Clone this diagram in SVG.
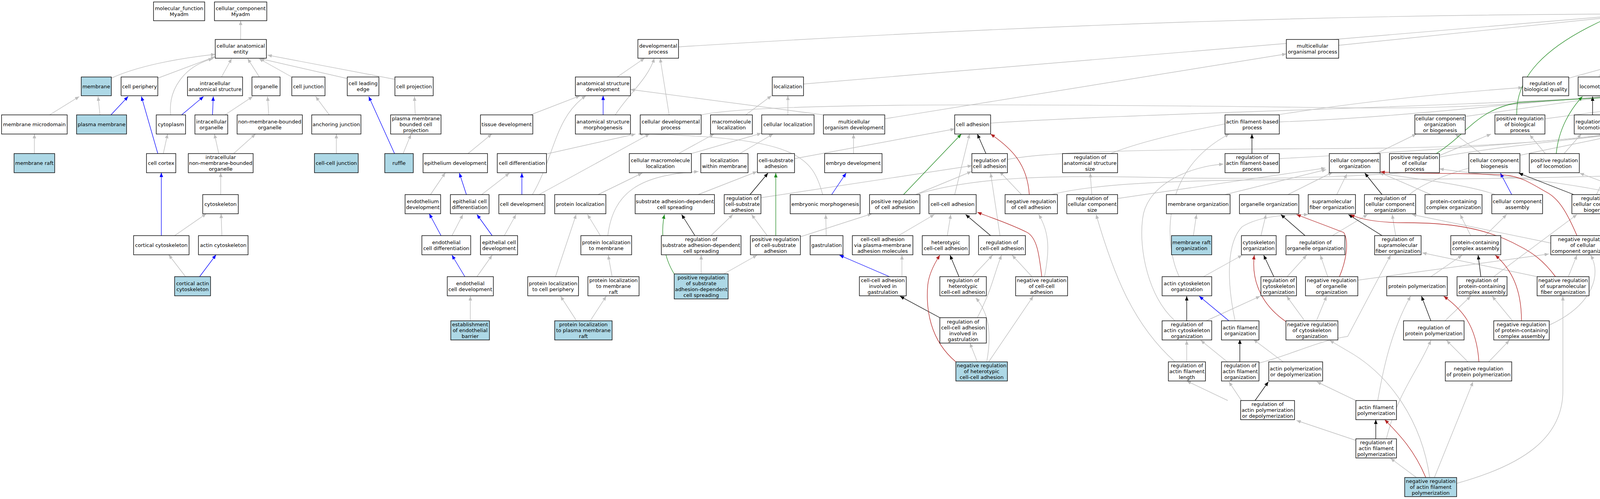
<svg xmlns="http://www.w3.org/2000/svg" width="6767" height="1277" viewBox="0 0 6767 1277">
<style>
.b{fill:#fff;stroke:#000;stroke-width:1.4}
.q{fill:#add8e6;stroke:#000;stroke-width:1.4}
text{font-family:"DejaVu Sans","Liberation Sans",sans-serif;font-size:13px;text-anchor:middle;fill:#000}
#edges path{fill:none}
.g{stroke:#bebebe;stroke-width:1.4;marker-end:url(#ag)}
.u{stroke:#0000ff;stroke-width:1.3;marker-end:url(#au)}
.k{stroke:#000;stroke-width:1.3;marker-end:url(#ak)}
.v{stroke:#228b22;stroke-width:1.3;marker-end:url(#av)}
.r{stroke:#b22222;stroke-width:1.3;marker-end:url(#ar)}
</style>
<defs>
<marker id="ag" markerUnits="userSpaceOnUse" markerWidth="12" markerHeight="10" refX="11" refY="4.5" orient="auto"><path d="M0,0 L11,4.5 L0,9 z" fill="#bebebe"/></marker>
<marker id="au" markerUnits="userSpaceOnUse" markerWidth="12" markerHeight="10" refX="11" refY="4.5" orient="auto"><path d="M0,0 L11,4.5 L0,9 z" fill="#0000ff"/></marker>
<marker id="ak" markerUnits="userSpaceOnUse" markerWidth="12" markerHeight="10" refX="11" refY="4.5" orient="auto"><path d="M0,0 L11,4.5 L0,9 z" fill="#000"/></marker>
<marker id="av" markerUnits="userSpaceOnUse" markerWidth="12" markerHeight="10" refX="11" refY="4.5" orient="auto"><path d="M0,0 L11,4.5 L0,9 z" fill="#228b22"/></marker>
<marker id="ar" markerUnits="userSpaceOnUse" markerWidth="12" markerHeight="10" refX="11" refY="4.5" orient="auto"><path d="M0,0 L11,4.5 L0,9 z" fill="#b22222"/></marker>
</defs>
<rect width="6767" height="1277" fill="#fff"/>
<g id="edges">
<path class="g" d="M616 101 L616 53"/>
<path class="g" d="M285 200 C350 170 450 150 551 139"/>
<path class="g" d="M404 200 L551 145"/>
<path class="g" d="M437 294 C430 230 470 170 545 150"/>
<path class="g" d="M567 197 L593 150"/>
<path class="g" d="M664 197 L634 150"/>
<path class="g" d="M747 197 L663 150"/>
<path class="g" d="M889 201 L666 150"/>
<path class="g" d="M1011 203 L685 141"/>
<path class="g" d="M127 294 L203 247"/>
<path class="g" d="M256 294 L251 247"/>
<path class="g" d="M576 294 L647 247"/>
<path class="g" d="M688 294 L685 247"/>
<path class="g" d="M843 294 L808 247"/>
<path class="g" d="M1063 294 L1061 247"/>
<path class="g" d="M88 393 L88 343"/>
<path class="g" d="M418 393 L429 343"/>
<path class="g" d="M560 393 L549 343"/>
<path class="g" d="M598 393 L654 343"/>
<path class="g" d="M861 393 L861 343"/>
<path class="g" d="M1032 393 L1052 344"/>
<path class="g" d="M565 498 L565 442"/>
<path class="g" d="M447 603 L528 547"/>
<path class="g" d="M568 603 L566 547"/>
<path class="g" d="M475 708 L432 652"/>
<path class="g" d="M1198 393 L1259 343"/>
<path class="g" d="M1102 498 L1140 442"/>
<path class="g" d="M1737 120 Q3000 40 4117 36"/>
<path class="g" d="M1580 197 L1650 149"/>
<path class="g" d="M1575 294 C1610 240 1660 200 1675 149"/>
<path class="g" d="M1713 294 L1690 149"/>
<path class="g" d="M1358 294 L1485 245"/>
<path class="g" d="M1363 498 C1420 400 1420 300 1500 245"/>
<path class="g" d="M2108 294 L1614 229"/>
<path class="g" d="M2057 215 Q3500 90 4117 42"/>
<path class="g" d="M1909 294 L1975 245"/>
<path class="g" d="M2017 294 L2017 245"/>
<path class="g" d="M1795 294 C1950 262 2600 265 3450 276 C3800 280 4000 255 4144 243"/>
<path class="g" d="M2265 304 L3293 138"/>
<path class="g" d="M1399 394 L1627 343"/>
<path class="g" d="M1380 498 L1663 343"/>
<path class="g" d="M1737 393 L1828 343"/>
<path class="g" d="M1770 393 L1949 341"/>
<path class="g" d="M1894 393 L1979 343"/>
<path class="g" d="M2034 406 L2444 330"/>
<path class="g" d="M2185 393 L2185 343"/>
<path class="g" d="M2106 498 C2080 400 2040 350 1634 343"/>
<path class="g" d="M1233 498 L1304 443"/>
<path class="g" d="M1531 498 L1644 443"/>
<path class="g" d="M1787 498 L1938 439"/>
<path class="g" d="M1948 506 L2488 424"/>
<path class="g" d="M1964 603 L1924 549"/>
<path class="g" d="M2049 606 L2232 547"/>
<path class="g" d="M1820 603 L1876 549"/>
<path class="g" d="M2115 603 L2114 549"/>
<path class="g" d="M1157 603 L1185 549"/>
<path class="g" d="M1291 603 L1321 549"/>
<path class="g" d="M1537 603 L1504 549"/>
<path class="g" d="M1556 603 C1570 490 1640 448 1788 439"/>
<path class="g" d="M1422 708 L1475 549"/>
<path class="g" d="M1795 701 L1795 653"/>
<path class="g" d="M1853 701 L1938 653"/>
<path class="g" d="M2309 708 L2309 653"/>
<path class="g" d="M1204 821 L1204 758"/>
<path class="g" d="M1221 708 L1260 653"/>
<path class="g" d="M1476 821 L1435 758"/>
<path class="g" d="M1511 821 L1552 758"/>
<path class="g" d="M1567 708 L1557 653"/>
<path class="g" d="M3427 116 L4117 45"/>
<path class="g" d="M2536 315 C2900 290 3700 275 4144 246"/>
<path class="g" d="M3275 312 C3600 300 3900 260 4144 245"/>
<path class="g" d="M2579 408 C2700 385 3000 382 3450 380 C3800 378 4000 360 4144 340"/>
<path class="g" d="M2843 393 C3000 330 3400 260 3898 224"/>
<path class="g" d="M3275 406 C3600 388 3900 370 4144 342"/>
<path class="g" d="M2444 498 L2482 343"/>
<path class="g" d="M2615 498 L2559 439"/>
<path class="g" d="M2692 498 C2800 470 3000 459 3450 459 C3900 459 4200 450 4403 438"/>
<path class="g" d="M2795 498 L2791 443"/>
<path class="g" d="M2861 508 L3393 430"/>
<path class="g" d="M3136 498 L3395 434"/>
<path class="g" d="M3297 498 L3411 441"/>
<path class="g" d="M3422 498 L3448 445"/>
<path class="g" d="M3055 603 L3063 549"/>
<path class="g" d="M3228 603 L3241 549"/>
<path class="g" d="M3411 603 L3501 549"/>
<path class="g" d="M2344 498 L2487 439"/>
<path class="g" d="M2344 498 C2500 450 2700 448 3000 455 C3300 460 3550 450 3685 432"/>
<path class="g" d="M2300 603 L2392 549"/>
<path class="g" d="M2425 603 L2434 549"/>
<path class="g" d="M2560 603 L2536 443"/>
<path class="g" d="M2489 708 L2541 653"/>
<path class="g" d="M2642 708 L2591 653"/>
<path class="g" d="M2674 708 C2685 650 2690 600 2659 549"/>
<path class="g" d="M2502 813 C2540 740 2545 700 2564 653"/>
<path class="g" d="M2526 926 C2540 850 2530 800 2498 762"/>
<path class="g" d="M2502 926 L2483 878"/>
<path class="g" d="M2531 926 L2645 758"/>
<path class="g" d="M3081 708 L3180 653"/>
<path class="g" d="M3019 708 C2985 640 2960 440 3147 343"/>
<path class="g" d="M3008 821 C2940 760 2915 640 2925 560 C2935 470 3050 425 3132 420"/>
<path class="g" d="M3008 926 C2900 830 2850 700 2806 549"/>
<path class="g" d="M3162 821 C3140 720 3140 620 3180 580 C3230 550 3300 550 3349 549"/>
<path class="g" d="M3295 708 L3345 653"/>
<path class="g" d="M3088 821 L3226 758"/>
<path class="g" d="M3340 821 L3294 758"/>
<path class="g" d="M3370 821 L3396 758"/>
<path class="g" d="M3399 708 L3380 653"/>
<path class="g" d="M3142 926 L3074 871"/>
<path class="g" d="M3038 926 L3038 871"/>
<path class="g" d="M3285 926 L3209 869"/>
<path class="g" d="M3223 929 C3300 910 3380 870 3450 861 L3560 653"/>
<path class="g" d="M3143 1025 L3038 975"/>
<path class="g" d="M3178 1025 L3146 977"/>
<path class="g" d="M3471 1025 L3371 977"/>
<path class="g" d="M3471 1127 L3319 1076"/>
<path class="g" d="M4260 101 L4213 55"/>
<path class="g" d="M4016 200 L4216 145"/>
<path class="g" d="M4093 197 L4165 55"/>
<path class="g" d="M4194 197 L4183 55"/>
<path class="g" d="M4531 204 L4363 149"/>
<path class="g" d="M3955 304 L4531 228"/>
<path class="g" d="M4119 298 L4531 230"/>
<path class="g" d="M4251 298 L4531 232"/>
<path class="g" d="M4287 294 L4231 247"/>
<path class="g" d="M4476 302 L4253 230"/>
<path class="g" d="M3751 298 L4144 243"/>
<path class="g" d="M3523 393 L3626 343"/>
<path class="g" d="M3685 398 L3817 343"/>
<path class="g" d="M3685 402 C3800 380 4000 360 4144 343"/>
<path class="g" d="M3791 393 L3725 343"/>
<path class="g" d="M3956 393 L3916 345"/>
<path class="g" d="M4004 393 L4048 343"/>
<path class="g" d="M4139 393 L4095 343"/>
<path class="g" d="M4172 393 L4183 343"/>
<path class="g" d="M4326 393 L4323 343"/>
<path class="g" d="M4403 404 L4257 341"/>
<path class="g" d="M4535 402 C4700 380 4900 360 5090 343"/>
<path class="g" d="M4611 400 C4500 380 4350 350 4251 340"/>
<path class="g" d="M4224 498 L4183 443"/>
<path class="g" d="M4191 498 L4044 443"/>
<path class="g" d="M4178 505 C4000 460 3800 450 3685 432"/>
<path class="g" d="M4330 498 L4213 439"/>
<path class="g" d="M3608 498 C3700 420 4000 380 4147 343"/>
<path class="g" d="M3663 498 L3531 441"/>
<path class="g" d="M3828 498 C3750 470 3600 455 3531 443"/>
<path class="g" d="M4087 498 C4120 430 4130 380 4150 343"/>
<path class="g" d="M4134 622 C4300 590 4450 560 4469 443"/>
<path class="g" d="M3970 622 L3615 549"/>
<path class="g" d="M3573 603 L3564 549"/>
<path class="g" d="M3765 603 L3738 549"/>
<path class="g" d="M3802 603 L3857 549"/>
<path class="g" d="M4378 603 L4378 549"/>
<path class="g" d="M4348 603 L4279 549"/>
<path class="g" d="M3476 717 L3965 650"/>
<path class="g" d="M4015 708 L4037 653"/>
<path class="g" d="M3966 832 C4080 780 4100 700 4072 653"/>
<path class="g" d="M3935 708 L3641 647"/>
<path class="g" d="M3663 708 L3743 653"/>
<path class="g" d="M3824 708 L4037 549"/>
<path class="g" d="M3872 821 L3820 758"/>
<path class="g" d="M3699 821 L3765 758"/>
<path class="g" d="M3758 926 L3703 871"/>
<path class="g" d="M3811 926 L3864 871"/>
<path class="g" d="M3527 1025 C3540 950 3560 850 3611 758"/>
<path class="g" d="M3549 1123 C3580 1000 3630 950 3663 871"/>
<path class="g" d="M3626 1222 L3560 1173"/>
<path class="g" d="M3672 1222 L3771 977"/>
<path class="g" d="M3660 1222 C3640 1080 3560 960 3450 898 L3404 871"/>
<path class="g" d="M3729 1237 C3900 1190 4001 1120 4001 1000 L4001 758"/>
<path class="g" d="M4786 208 C4600 150 4400 80 4249 50"/>
<path class="g" d="M4840 294 C4700 220 4400 90 4251 55"/>
<path class="g" d="M4974 298 L4659 231"/>
<path class="g" d="M5088 305 L4659 233"/>
<path class="g" d="M4765 294 L4805 247"/>
<path class="g" d="M4685 300 C4500 270 4350 240 4253 236"/>
<path class="g" d="M5399 302 C5000 260 4500 230 4253 225"/>
<path class="g" d="M5523 304 L5818 237"/>
<path class="g" d="M5829 296 C5500 270 5000 240 4660 233"/>
<path class="g" d="M4964 393 C4950 300 4800 250 4659 241"/>
<path class="g" d="M5232 393 L5183 343"/>
<path class="g" d="M5192 393 L5069 341"/>
<path class="g" d="M5523 396 L5828 341"/>
<path class="g" d="M5399 404 C5200 380 4600 360 4251 343"/>
<path class="g" d="M5583 393 L5506 343"/>
<path class="g" d="M4758 498 L4706 443"/>
<path class="g" d="M4708 505 C4650 470 4600 450 4535 436"/>
<path class="g" d="M4886 498 L4747 443"/>
<path class="g" d="M4952 498 L4963 443"/>
<path class="g" d="M4990 498 C5010 430 5020 380 5029 343"/>
<path class="g" d="M5113 498 L5018 443"/>
<path class="g" d="M5155 498 L5155 343"/>
<path class="g" d="M4666 498 L4780 443"/>
<path class="g" d="M5386 498 L5436 443"/>
<path class="g" d="M5296 510 C5000 460 4700 450 4535 440"/>
<path class="g" d="M5429 505 C5600 470 5800 455 5925 440"/>
<path class="g" d="M5550 498 L5491 443"/>
<path class="g" d="M5722 498 L5656 443"/>
<path class="g" d="M5407 603 L5381 549"/>
<path class="g" d="M5458 603 L5540 549"/>
<path class="g" d="M5619 603 L5594 549"/>
<path class="g" d="M5498 708 L5444 653"/>
<path class="g" d="M5537 708 L5601 653"/>
<path class="g" d="M5686 708 L5653 653"/>
<path class="g" d="M5619 821 L5542 758"/>
<path class="g" d="M5664 821 L5693 758"/>
<path class="g" d="M5767 926 L5697 871"/>
<path class="g" d="M4720 708 L4739 653"/>
<path class="g" d="M4830 708 L4782 653"/>
<path class="g" d="M4890 708 L4969 653"/>
<path class="g" d="M4709 821 L4709 758"/>
<path class="g" d="M4739 821 L4816 758"/>
<path class="g" d="M4616 603 L4616 549"/>
<path class="g" d="M4802 603 L4897 549"/>
<path class="g" d="M4996 603 L4963 549"/>
<path class="g" d="M5044 603 L5117 549"/>
<path class="g" d="M5083 620 C5200 590 5260 520 5260 443"/>
<path class="g" d="M4956 603 L4838 549"/>
<path class="g" d="M5829 208 C5400 150 4700 60 4249 45"/>
<path class="g" d="M5776 294 L5854 247"/>
<path class="g" d="M6138 298 L5958 245"/>
<path class="g" d="M6351 305 L5958 235"/>
<path class="g" d="M5851 393 L5876 345"/>
<path class="g" d="M5967 393 L5922 345"/>
<path class="g" d="M6084 393 L5958 345"/>
<path class="g" d="M6360 393 L6259 345"/>
<path class="g" d="M6413 393 L6413 345"/>
<path class="g" d="M6533 393 L6457 345"/>
<path class="g" d="M6356 498 C6300 420 6150 350 5958 326"/>
<path class="g" d="M5953 509 C5850 490 5755 460 5745 400 L5740 343"/>
<path class="g" d="M6074 506 L6340 437"/>
<path class="g" d="M6074 503 C6200 470 6400 460 6508 439"/>
<path class="g" d="M6533 498 L6557 443"/>
<path class="g" d="M6674 498 L6607 443"/>
<path class="g" d="M6198 490 L6170 443"/>
<path class="g" d="M6152 490 L6048 443"/>
<path class="g" d="M5932 603 C5940 520 6000 460 6074 441"/>
<path class="g" d="M5925 603 L5847 443"/>
<path class="g" d="M6000 607 L6327 549"/>
<path class="g" d="M6074 603 L6032 549"/>
<path class="g" d="M6162 617 L6473 549"/>
<path class="g" d="M6314 616 C6200 580 6100 500 6029 443"/>
<path class="g" d="M6379 603 L6379 549"/>
<path class="g" d="M6526 603 L6431 549"/>
<path class="g" d="M5776 603 L5763 549"/>
<path class="g" d="M6247 708 L6227 555"/>
<path class="g" d="M6181 708 L6003 649"/>
<path class="g" d="M6282 708 L6343 653"/>
<path class="g" d="M6569 708 L6569 653"/>
<path class="g" d="M6525 708 L6431 653"/>
<path class="g" d="M5846 708 L5807 653"/>
<path class="g" d="M5915 708 L6035 653"/>
<path class="g" d="M6014 708 L5964 653"/>
<path class="g" d="M6100 821 L6058 758"/>
<path class="g" d="M6147 821 L6220 758"/>
<path class="g" d="M5920 821 L6003 758"/>
<path class="g" d="M5847 821 L5752 758"/>
<path class="g" d="M5841 926 L5872 871"/>
<path class="g" d="M5893 926 L6052 871"/>
<path class="g" d="M5925 394 C5700 370 5400 345 5221 330"/>
<path class="u" d="M284 294 L328 247"/>
<path class="u" d="M404 393 L362 247"/>
<path class="u" d="M465 294 L521 247"/>
<path class="u" d="M544 294 L546 247"/>
<path class="u" d="M1010 393 L944 247"/>
<path class="u" d="M413 603 L413 442"/>
<path class="u" d="M511 708 L553 652"/>
<path class="u" d="M1129 603 L1099 547"/>
<path class="u" d="M1544 294 L1544 245"/>
<path class="u" d="M2129 498 L2166 443"/>
<path class="u" d="M1194 498 L1176 443"/>
<path class="u" d="M1336 498 L1336 443"/>
<path class="u" d="M1260 603 L1221 549"/>
<path class="u" d="M2277 708 L2149 653"/>
<path class="u" d="M1190 708 L1157 653"/>
<path class="u" d="M3146 821 L3070 758"/>
<path class="u" d="M3870 498 L3841 443"/>
<path class="u" d="M4770 395 L4611 343"/>
<path class="u" d="M4813 393 L4769 343"/>
<path class="u" d="M4842 393 L4855 343"/>
<path class="k" d="M1920 498 L1966 443"/>
<path class="k" d="M1779 603 L1745 549"/>
<path class="k" d="M2524 393 L2502 343"/>
<path class="k" d="M3205 393 L3205 343"/>
<path class="k" d="M3341 603 L3279 549"/>
<path class="k" d="M2536 603 L2472 549"/>
<path class="k" d="M2455 708 L2432 653"/>
<path class="k" d="M2406 813 L2304 758"/>
<path class="k" d="M3038 821 L3038 758"/>
<path class="k" d="M3261 708 L3235 653"/>
<path class="k" d="M3174 926 L3174 869"/>
<path class="k" d="M3213 1025 L3247 977"/>
<path class="k" d="M4550 197 C4450 120 4350 80 4246 52"/>
<path class="k" d="M4077 294 L4077 247"/>
<path class="k" d="M4197 294 L4197 247"/>
<path class="k" d="M4200 393 L4275 345"/>
<path class="k" d="M3538 498 L3494 443"/>
<path class="k" d="M4029 498 L3888 443"/>
<path class="k" d="M4367 498 L4345 443"/>
<path class="k" d="M3538 603 L3452 549"/>
<path class="k" d="M3791 708 L3784 653"/>
<path class="k" d="M3663 821 L3639 758"/>
<path class="k" d="M3522 1123 L3522 1074"/>
<path class="k" d="M4974 294 L4871 243"/>
<path class="k" d="M4645 393 L4579 345"/>
<path class="k" d="M4945 393 L4892 343"/>
<path class="k" d="M5461 393 L5461 343"/>
<path class="k" d="M4923 498 L4864 443"/>
<path class="k" d="M5590 498 L5612 443"/>
<path class="k" d="M5663 603 L5722 549"/>
<path class="k" d="M5722 708 L5760 653"/>
<path class="k" d="M4687 708 L4640 653"/>
<path class="k" d="M4723 603 L4651 549"/>
<path class="k" d="M5891 294 L5891 247"/>
<path class="k" d="M5814 393 L5766 345"/>
<path class="k" d="M6163 393 L6188 345"/>
<path class="k" d="M6425 498 L6528 443"/>
<path class="k" d="M5958 603 L5993 549"/>
<path class="k" d="M6600 603 L6674 549"/>
<path class="k" d="M6050 708 L6078 653"/>
<path class="k" d="M5883 821 L5870 758"/>
<path class="v" d="M1986 603 L1986 443"/>
<path class="v" d="M1726 701 C1700 660 1690 600 1701 549"/>
<path class="v" d="M2313 498 L2461 343"/>
<path class="v" d="M3883 294 C3880 200 3950 120 4114 47"/>
<path class="v" d="M3984 393 C3990 330 4020 280 4051 247"/>
<path class="v" d="M3677 393 C3760 340 3780 280 3890 262 L4139 248"/>
<path class="v" d="M4246 498 C4260 420 4280 380 4297 343"/>
<path class="v" d="M4403 603 C4420 550 4410 480 4385 439"/>
<path class="r" d="M2635 498 C2630 420 2590 380 2536 343"/>
<path class="r" d="M2667 708 C2660 650 2655 610 2630 595 C2580 570 2530 555 2502 543"/>
<path class="r" d="M2447 926 C2380 870 2370 790 2375 730 C2378 700 2395 670 2406 653"/>
<path class="r" d="M3292 823 C3215 770 3205 700 3211 653"/>
<path class="r" d="M3429 708 C3445 670 3455 620 3440 595 L3319 549"/>
<path class="r" d="M3982 708 C3950 665 3920 645 3890 630 C3800 580 3700 570 3600 570 C3520 570 3480 560 3457 549"/>
<path class="r" d="M4037 603 C4010 540 3990 510 3963 494 C3920 470 3900 455 3861 449 C3800 442 3600 445 3534 440"/>
<path class="r" d="M3895 821 C3895 740 3870 690 3828 653"/>
<path class="r" d="M3786 926 C3780 830 3740 790 3696 758"/>
<path class="r" d="M3650 1222 C3620 1150 3580 1110 3545 1074"/>
<path class="r" d="M5106 294 C4800 150 4500 80 4246 41"/>
<path class="r" d="M5260 393 C5262 290 5200 245 4868 224"/>
<path class="r" d="M4455 393 C4430 330 4350 260 4253 237"/>
<path class="r" d="M4717 498 C4650 465 4600 445 4575 420 C4560 400 4555 370 4550 343"/>
<path class="r" d="M5135 498 C5080 420 5000 370 4901 333"/>
<path class="r" d="M5022 603 C5020 520 5000 470 4904 441"/>
<path class="r" d="M4855 708 C4855 640 4850 600 4800 580 C4750 570 4700 560 4681 549"/>
<path class="r" d="M4684 821 C4650 760 4630 700 4621 653"/>
<path class="r" d="M5363 498 C5360 420 5390 380 5429 343"/>
<path class="r" d="M5429 603 C5450 520 5500 470 5561 443"/>
<path class="r" d="M5508 708 C5520 650 5530 620 5560 600 C5600 580 5650 560 5685 549"/>
<path class="r" d="M5640 821 C5630 740 5640 700 5729 649"/>
<path class="r" d="M5990 393 C5985 320 5960 280 5925 247"/>
<path class="r" d="M6227 490 C6230 420 6225 380 6214 345"/>
<path class="r" d="M6447 610 C6550 570 6600 540 6597 470 L6587 443"/>
<path class="r" d="M6592 708 C6630 660 6650 620 6694 549"/>
<path class="r" d="M6241 708 C6220 640 6150 600 6071 549"/>
<path class="r" d="M6120 821 C6120 740 6115 700 6105 653"/>
<path class="r" d="M5814 926 C5790 860 5780 800 5834 758"/>
</g>
<g id="n_mf"><rect class="b" x="393" y="5" width="131" height="48"/><text><tspan x="458.5" y="26">molecular_function</tspan><tspan x="458.5" y="41">Myadm</tspan></text></g>
<g id="n_cc"><rect class="b" x="549" y="5" width="134" height="48"/><text><tspan x="616" y="26">cellular_component</tspan><tspan x="616" y="41">Myadm</tspan></text></g>
<g id="n_bp"><rect class="b" x="4117" y="5" width="126" height="48"/><text><tspan x="4180" y="26">biological_process</tspan><tspan x="4180" y="41">Myadm</tspan></text></g>
<g id="n_cae"><rect class="b" x="551" y="101" width="131" height="48"/><text><tspan x="616.5" y="122">cellular anatomical</tspan><tspan x="616.5" y="137">entity</tspan></text></g>
<g id="n_dp"><rect class="b" x="1633" y="101" width="104" height="48"/><text><tspan x="1685" y="122">developmental</tspan><tspan x="1685" y="137">process</tspan></text></g>
<g id="n_mop"><rect class="b" x="3293" y="101" width="134" height="48"/><text><tspan x="3360" y="122">multicellular</tspan><tspan x="3360" y="137">organismal process</tspan></text></g>
<g id="n_br"><rect class="b" x="4216" y="101" width="140" height="48"/><text x="4286" y="129.5">biological regulation</text></g>
<g id="n_membrane"><rect class="q" x="208" y="197" width="77" height="48"/><text x="246.5" y="225.5">membrane</text></g>
<g id="n_cellperiph"><rect class="b" x="310" y="197" width="94" height="48"/><text x="357" y="225.5">cell periphery</text></g>
<g id="n_ias"><rect class="b" x="480" y="197" width="141" height="48"/><text><tspan x="550.5" y="218">intracellular</tspan><tspan x="550.5" y="233">anatomical structure</tspan></text></g>
<g id="n_organelle"><rect class="b" x="645" y="197" width="72" height="48"/><text x="681" y="225.5">organelle</text></g>
<g id="n_celljunction"><rect class="b" x="747" y="197" width="85" height="48"/><text x="789.5" y="225.5">cell junction</text></g>
<g id="n_cle"><rect class="b" x="889" y="197" width="81" height="48"/><text><tspan x="929.5" y="218">cell leading</tspan><tspan x="929.5" y="233">edge</tspan></text></g>
<g id="n_cellproj"><rect class="b" x="1011" y="197" width="98" height="48"/><text x="1060" y="225.5">cell projection</text></g>
<g id="n_asd"><rect class="b" x="1473" y="197" width="141" height="48"/><text><tspan x="1543.5" y="218">anatomical structure</tspan><tspan x="1543.5" y="233">development</tspan></text></g>
<g id="n_loc"><rect class="b" x="1977" y="197" width="80" height="48"/><text x="2017" y="225.5">localization</text></g>
<g id="n_rbq"><rect class="b" x="3898" y="197" width="118" height="48"/><text><tspan x="3957" y="218">regulation of</tspan><tspan x="3957" y="233">biological quality</tspan></text></g>
<g id="n_locomotion"><rect class="b" x="4040" y="197" width="79" height="48"/><text x="4079.5" y="225.5">locomotion</text></g>
<g id="n_cp"><rect class="b" x="4144" y="197" width="107" height="48"/><text x="4197.5" y="225.5">cellular process</text></g>
<g id="n_rbp"><rect class="b" x="4531" y="197" width="123" height="48"/><text><tspan x="4592.5" y="218">regulation of</tspan><tspan x="4592.5" y="233">biological process</tspan></text></g>
<g id="n_rs"><rect class="b" x="4786" y="197" width="82" height="48"/><text><tspan x="4827" y="218">response to</tspan><tspan x="4827" y="233">stimulus</tspan></text></g>
<g id="n_mp"><rect class="b" x="5829" y="197" width="126" height="48"/><text x="5892" y="225.5">metabolic process</text></g>
<g id="n_mmd"><rect class="b" x="4" y="294" width="168" height="49"/><text x="88" y="323">membrane microdomain</text></g>
<g id="n_pm"><rect class="q" x="196" y="294" width="128" height="49"/><text x="260" y="323">plasma membrane</text></g>
<g id="n_cytoplasm"><rect class="b" x="400" y="294" width="75" height="49"/><text x="437.5" y="323">cytoplasm</text></g>
<g id="n_io"><rect class="b" x="499" y="294" width="84" height="49"/><text><tspan x="541" y="315.5">intracellular</tspan><tspan x="541" y="330.5">organelle</tspan></text></g>
<g id="n_nmbo"><rect class="b" x="607" y="294" width="167" height="49"/><text><tspan x="690.5" y="315.5">non-membrane-bounded</tspan><tspan x="690.5" y="330.5">organelle</tspan></text></g>
<g id="n_aj"><rect class="b" x="798" y="294" width="126" height="49"/><text x="861" y="323">anchoring junction</text></g>
<g id="n_pmbcp"><rect class="b" x="1000" y="294" width="129" height="49"/><text><tspan x="1064.5" y="308">plasma membrane</tspan><tspan x="1064.5" y="323">bounded cell</tspan><tspan x="1064.5" y="338">projection</tspan></text></g>
<g id="n_tissuedev"><rect class="b" x="1230" y="294" width="134" height="49"/><text x="1297" y="323">tissue development</text></g>
<g id="n_asm"><rect class="b" x="1473" y="294" width="141" height="49"/><text><tspan x="1543.5" y="315.5">anatomical structure</tspan><tspan x="1543.5" y="330.5">morphogenesis</tspan></text></g>
<g id="n_cdp"><rect class="b" x="1639" y="294" width="156" height="49"/><text><tspan x="1717" y="315.5">cellular developmental</tspan><tspan x="1717" y="330.5">process</tspan></text></g>
<g id="n_ml"><rect class="b" x="1819" y="294" width="107" height="49"/><text><tspan x="1872.5" y="315.5">macromolecule</tspan><tspan x="1872.5" y="330.5">localization</tspan></text></g>
<g id="n_cl"><rect class="b" x="1950" y="294" width="134" height="49"/><text x="2017" y="323">cellular localization</text></g>
<g id="n_mod"><rect class="b" x="2108" y="294" width="157" height="49"/><text><tspan x="2186.5" y="315.5">multicellular</tspan><tspan x="2186.5" y="330.5">organism development</tspan></text></g>
<g id="n_ca"><rect class="b" x="2444" y="294" width="92" height="49"/><text x="2490" y="323">cell adhesion</text></g>
<g id="n_afbp"><rect class="b" x="3136" y="294" width="139" height="49"/><text><tspan x="3205.5" y="315.5">actin filament-based</tspan><tspan x="3205.5" y="330.5">process</tspan></text></g>
<g id="n_ccob"><rect class="b" x="3622" y="294" width="129" height="49"/><text><tspan x="3686.5" y="308">cellular component</tspan><tspan x="3686.5" y="323">organization</tspan><tspan x="3686.5" y="338">or biogenesis</tspan></text></g>
<g id="n_prbp"><rect class="b" x="3827" y="294" width="128" height="49"/><text><tspan x="3891" y="308">positive regulation</tspan><tspan x="3891" y="323">of biological</tspan><tspan x="3891" y="338">process</tspan></text></g>
<g id="n_rl"><rect class="b" x="4030" y="294" width="89" height="49"/><text><tspan x="4074.5" y="315.5">regulation of</tspan><tspan x="4074.5" y="330.5">locomotion</tspan></text></g>
<g id="n_rcp"><rect class="b" x="4144" y="294" width="107" height="49"/><text><tspan x="4197.5" y="315.5">regulation of</tspan><tspan x="4197.5" y="330.5">cellular process</tspan></text></g>
<g id="n_cm"><rect class="b" x="4276" y="294" width="83" height="49"/><text x="4317.5" y="323">cell motility</text></g>
<g id="n_ccom"><rect class="b" x="4476" y="294" width="133" height="49"/><text x="4542.5" y="323">cell communication</text></g>
<g id="n_crs"><rect class="b" x="4685" y="294" width="117" height="49"/><text><tspan x="4743.5" y="315.5">cellular response</tspan><tspan x="4743.5" y="330.5">to stimulus</tspan></text></g>
<g id="n_signaling"><rect class="b" x="4827" y="294" width="71" height="49"/><text x="4862.5" y="323">signaling</text></g>
<g id="n_rrs"><rect class="b" x="4974" y="294" width="90" height="49"/><text><tspan x="5019" y="308">regulation of</tspan><tspan x="5019" y="323">response to</tspan><tspan x="5019" y="338">stimulus</tspan></text></g>
<g id="n_nrbp"><rect class="b" x="5088" y="294" width="133" height="49"/><text><tspan x="5154.5" y="308">negative regulation</tspan><tspan x="5154.5" y="323">of biological</tspan><tspan x="5154.5" y="338">process</tspan></text></g>
<g id="n_cmp"><rect class="b" x="5399" y="294" width="124" height="49"/><text><tspan x="5461" y="315.5">cellular metabolic</tspan><tspan x="5461" y="330.5">process</tspan></text></g>
<g id="n_pmp"><rect class="b" x="5677" y="294" width="127" height="49"/><text><tspan x="5740.5" y="315.5">primary metabolic</tspan><tspan x="5740.5" y="330.5">process</tspan></text></g>
<g id="n_rmp"><rect class="b" x="5829" y="294" width="126" height="49"/><text><tspan x="5892" y="315.5">regulation of</tspan><tspan x="5892" y="330.5">metabolic process</tspan></text></g>
<g id="n_ncmp"><rect class="b" x="6138" y="294" width="132" height="49"/><text><tspan x="6204" y="315.5">nitrogen compound</tspan><tspan x="6204" y="330.5">metabolic process</tspan></text></g>
<g id="n_osmp"><rect class="b" x="6351" y="294" width="125" height="49"/><text><tspan x="6413.5" y="315.5">organic substance</tspan><tspan x="6413.5" y="330.5">metabolic process</tspan></text></g>
<g id="n_mraft"><rect class="q" x="36" y="393" width="104" height="49"/><text x="88" y="422">membrane raft</text></g>
<g id="n_cortex"><rect class="b" x="375" y="393" width="75" height="49"/><text x="412.5" y="422">cell cortex</text></g>
<g id="n_inmbo"><rect class="b" x="482" y="393" width="166" height="49"/><text><tspan x="565" y="407">intracellular</tspan><tspan x="565" y="422">non-membrane-bounded</tspan><tspan x="565" y="437">organelle</tspan></text></g>
<g id="n_ccj"><rect class="q" x="805" y="393" width="112" height="49"/><text x="861" y="422">cell-cell junction</text></g>
<g id="n_ruffle"><rect class="q" x="985" y="393" width="73" height="49"/><text x="1021.5" y="422">ruffle</text></g>
<g id="n_epithdev"><rect class="b" x="1083" y="393" width="165" height="49"/><text x="1165.5" y="422">epithelium development</text></g>
<g id="n_celldiff"><rect class="b" x="1273" y="393" width="126" height="49"/><text x="1336" y="422">cell differentiation</text></g>
<g id="n_cml"><rect class="b" x="1611" y="393" width="159" height="49"/><text><tspan x="1690.5" y="414.5">cellular macromolecule</tspan><tspan x="1690.5" y="429.5">localization</tspan></text></g>
<g id="n_lwm"><rect class="b" x="1794" y="393" width="121" height="49"/><text><tspan x="1854.5" y="414.5">localization</tspan><tspan x="1854.5" y="429.5">within membrane</tspan></text></g>
<g id="n_csa"><rect class="b" x="1939" y="393" width="95" height="49"/><text><tspan x="1986.5" y="414.5">cell-substrate</tspan><tspan x="1986.5" y="429.5">adhesion</tspan></text></g>
<g id="n_embryodev"><rect class="b" x="2111" y="393" width="147" height="49"/><text x="2184.5" y="422">embryo development</text></g>
<g id="n_rca"><rect class="b" x="2488" y="393" width="91" height="49"/><text><tspan x="2533.5" y="414.5">regulation of</tspan><tspan x="2533.5" y="429.5">cell adhesion</tspan></text></g>
<g id="n_rass"><rect class="b" x="2720" y="393" width="141" height="49"/><text><tspan x="2790.5" y="407">regulation of</tspan><tspan x="2790.5" y="422">anatomical structure</tspan><tspan x="2790.5" y="437">size</tspan></text></g>
<g id="n_rafbp"><rect class="b" x="3136" y="393" width="139" height="49"/><text><tspan x="3205.5" y="407">regulation of</tspan><tspan x="3205.5" y="422">actin filament-based</tspan><tspan x="3205.5" y="437">process</tspan></text></g>
<g id="n_cco"><rect class="b" x="3403" y="393" width="130" height="49"/><text><tspan x="3468" y="414.5">cellular component</tspan><tspan x="3468" y="429.5">organization</tspan></text></g>
<g id="n_prcp"><rect class="b" x="3557" y="393" width="128" height="49"/><text><tspan x="3621" y="407">positive regulation</tspan><tspan x="3621" y="422">of cellular</tspan><tspan x="3621" y="437">process</tspan></text></g>
<g id="n_ccb"><rect class="b" x="3760" y="393" width="131" height="49"/><text><tspan x="3825.5" y="414.5">cellular component</tspan><tspan x="3825.5" y="429.5">biogenesis</tspan></text></g>
<g id="n_prl"><rect class="b" x="3915" y="393" width="128" height="49"/><text><tspan x="3979" y="414.5">positive regulation</tspan><tspan x="3979" y="429.5">of locomotion</tspan></text></g>
<g id="n_rcm"><rect class="b" x="4118" y="393" width="89" height="49"/><text><tspan x="4162.5" y="414.5">regulation of</tspan><tspan x="4162.5" y="429.5">cell motility</tspan></text></g>
<g id="n_cmig"><rect class="b" x="4282" y="393" width="96" height="49"/><text x="4330" y="422">cell migration</text></g>
<g id="n_nrcp"><rect class="b" x="4403" y="393" width="132" height="49"/><text><tspan x="4469" y="407">negative regulation</tspan><tspan x="4469" y="422">of cellular</tspan><tspan x="4469" y="437">process</tspan></text></g>
<g id="n_rccom"><rect class="b" x="4611" y="393" width="134" height="49"/><text><tspan x="4678" y="414.5">regulation of</tspan><tspan x="4678" y="429.5">cell communication</tspan></text></g>
<g id="n_st"><rect class="b" x="4770" y="393" width="131" height="49"/><text x="4835.5" y="422">signal transduction</text></g>
<g id="n_rsig"><rect class="b" x="4926" y="393" width="89" height="49"/><text><tspan x="4970.5" y="414.5">regulation of</tspan><tspan x="4970.5" y="429.5">signaling</tspan></text></g>
<g id="n_nrrs"><rect class="b" x="5192" y="393" width="133" height="49"/><text><tspan x="5258.5" y="407">negative regulation</tspan><tspan x="5258.5" y="422">of response</tspan><tspan x="5258.5" y="437">to stimulus</tspan></text></g>
<g id="n_rcmp"><rect class="b" x="5399" y="393" width="124" height="49"/><text><tspan x="5461" y="407">regulation of</tspan><tspan x="5461" y="422">cellular metabolic</tspan><tspan x="5461" y="437">process</tspan></text></g>
<g id="n_phmp"><rect class="b" x="5548" y="393" width="150" height="49"/><text><tspan x="5623" y="414.5">phosphorus metabolic</tspan><tspan x="5623" y="429.5">process</tspan></text></g>
<g id="n_rprimmp"><rect class="b" x="5774" y="393" width="126" height="49"/><text><tspan x="5837" y="407">regulation of</tspan><tspan x="5837" y="422">primary metabolic</tspan><tspan x="5837" y="437">process</tspan></text></g>
<g id="n_nrmp"><rect class="b" x="5925" y="393" width="134" height="49"/><text><tspan x="5992" y="407">negative regulation</tspan><tspan x="5992" y="422">of metabolic</tspan><tspan x="5992" y="437">process</tspan></text></g>
<g id="n_rncmp"><rect class="b" x="6083" y="393" width="131" height="49"/><text><tspan x="6148.5" y="407">regulation of</tspan><tspan x="6148.5" y="422">nitrogen compound</tspan><tspan x="6148.5" y="437">metabolic process</tspan></text></g>
<g id="n_oncmp"><rect class="b" x="6342" y="393" width="142" height="49"/><text><tspan x="6413" y="407">organonitrogen</tspan><tspan x="6413" y="422">compound metabolic</tspan><tspan x="6413" y="437">process</tspan></text></g>
<g id="n_mmp"><rect class="b" x="6510" y="393" width="124" height="49"/><text><tspan x="6572" y="414.5">macromolecule</tspan><tspan x="6572" y="429.5">metabolic process</tspan></text></g>
<g id="n_cytoskeleton"><rect class="b" x="519" y="498" width="91" height="49"/><text x="564.5" y="527">cytoskeleton</text></g>
<g id="n_endothdev"><rect class="b" x="1037" y="498" width="91" height="49"/><text><tspan x="1082.5" y="519.5">endothelium</tspan><tspan x="1082.5" y="534.5">development</tspan></text></g>
<g id="n_epcd"><rect class="b" x="1153" y="498" width="99" height="49"/><text><tspan x="1202.5" y="519.5">epithelial cell</tspan><tspan x="1202.5" y="534.5">differentiation</tspan></text></g>
<g id="n_celldev"><rect class="b" x="1277" y="498" width="118" height="49"/><text x="1336" y="527">cell development</text></g>
<g id="n_protloc"><rect class="b" x="1420" y="498" width="131" height="49"/><text x="1485.5" y="527">protein localization</text></g>
<g id="n_sadcs"><rect class="b" x="1626" y="498" width="203" height="49"/><text><tspan x="1727.5" y="519.5">substrate adhesion-dependent</tspan><tspan x="1727.5" y="534.5">cell spreading</tspan></text></g>
<g id="n_rcsa"><rect class="b" x="1854" y="498" width="94" height="49"/><text><tspan x="1901" y="512">regulation of</tspan><tspan x="1901" y="527">cell-substrate</tspan><tspan x="1901" y="542">adhesion</tspan></text></g>
<g id="n_em"><rect class="b" x="2023" y="498" width="179" height="49"/><text x="2112.5" y="527">embryonic morphogenesis</text></g>
<g id="n_prca"><rect class="b" x="2226" y="498" width="129" height="49"/><text><tspan x="2290.5" y="519.5">positive regulation</tspan><tspan x="2290.5" y="534.5">of cell adhesion</tspan></text></g>
<g id="n_cca"><rect class="b" x="2378" y="498" width="121" height="49"/><text x="2438.5" y="527">cell-cell adhesion</text></g>
<g id="n_nrca"><rect class="b" x="2573" y="498" width="134" height="49"/><text><tspan x="2640" y="519.5">negative regulation</tspan><tspan x="2640" y="534.5">of cell adhesion</tspan></text></g>
<g id="n_rccs"><rect class="b" x="2731" y="498" width="130" height="49"/><text><tspan x="2796" y="512">regulation of</tspan><tspan x="2796" y="527">cellular component</tspan><tspan x="2796" y="542">size</tspan></text></g>
<g id="n_memo"><rect class="b" x="2986" y="498" width="163" height="49"/><text x="3067.5" y="527">membrane organization</text></g>
<g id="n_oo"><rect class="b" x="3173" y="498" width="152" height="49"/><text x="3249" y="527">organelle organization</text></g>
<g id="n_sfo"><rect class="b" x="3349" y="498" width="121" height="49"/><text><tspan x="3409.5" y="519.5">supramolecular</tspan><tspan x="3409.5" y="534.5">fiber organization</tspan></text></g>
<g id="n_rcco"><rect class="b" x="3493" y="498" width="131" height="49"/><text><tspan x="3558.5" y="512">regulation of</tspan><tspan x="3558.5" y="527">cellular component</tspan><tspan x="3558.5" y="542">organization</tspan></text></g>
<g id="n_pcco"><rect class="b" x="3648" y="498" width="146" height="49"/><text><tspan x="3721" y="519.5">protein-containing</tspan><tspan x="3721" y="534.5">complex organization</tspan></text></g>
<g id="n_ccasm"><rect class="b" x="3819" y="498" width="130" height="49"/><text><tspan x="3884" y="519.5">cellular component</tspan><tspan x="3884" y="534.5">assembly</tspan></text></g>
<g id="n_rccb"><rect class="b" x="4024" y="498" width="130" height="49"/><text><tspan x="4089" y="512">regulation of</tspan><tspan x="4089" y="527">cellular component</tspan><tspan x="4089" y="542">biogenesis</tspan></text></g>
<g id="n_prcm"><rect class="b" x="4178" y="498" width="129" height="49"/><text><tspan x="4242.5" y="519.5">positive regulation</tspan><tspan x="4242.5" y="534.5">of cell motility</tspan></text></g>
<g id="n_rcmig"><rect class="b" x="4331" y="498" width="95" height="49"/><text><tspan x="4378.5" y="519.5">regulation of</tspan><tspan x="4378.5" y="534.5">cell migration</tspan></text></g>
<g id="n_icst"><rect class="b" x="4552" y="498" width="131" height="49"/><text><tspan x="4617.5" y="519.5">intracellular</tspan><tspan x="4617.5" y="534.5">signal transduction</tspan></text></g>
<g id="n_nrcc"><rect class="b" x="4708" y="498" width="149" height="49"/><text><tspan x="4782.5" y="519.5">negative regulation</tspan><tspan x="4782.5" y="534.5">of cell communication</tspan></text></g>
<g id="n_rst"><rect class="b" x="4883" y="498" width="130" height="49"/><text><tspan x="4948" y="519.5">regulation of</tspan><tspan x="4948" y="534.5">signal transduction</tspan></text></g>
<g id="n_nrsig"><rect class="b" x="5088" y="498" width="133" height="49"/><text><tspan x="5154.5" y="519.5">negative regulation</tspan><tspan x="5154.5" y="534.5">of signaling</tspan></text></g>
<g id="n_nrcmp"><rect class="b" x="5296" y="498" width="133" height="49"/><text><tspan x="5362.5" y="512">negative regulation</tspan><tspan x="5362.5" y="527">of cellular</tspan><tspan x="5362.5" y="542">metabolic process</tspan></text></g>
<g id="n_rphmp"><rect class="b" x="5505" y="498" width="150" height="49"/><text><tspan x="5580" y="512">regulation of</tspan><tspan x="5580" y="527">phosphorus metabolic</tspan><tspan x="5580" y="542">process</tspan></text></g>
<g id="n_pccmp"><rect class="b" x="5680" y="498" width="146" height="49"/><text><tspan x="5753" y="512">phosphate-containing</tspan><tspan x="5753" y="527">compound metabolic</tspan><tspan x="5753" y="542">process</tspan></text></g>
<g id="n_prmp"><rect class="b" x="5953" y="498" width="120" height="49"/><text><tspan x="6013" y="519.5">protein metabolic</tspan><tspan x="6013" y="534.5">process</tspan></text></g>
<g id="n_nrncmp"><rect class="b" x="6150" y="490" width="142" height="65"/><text><tspan x="6221" y="504.5">negative regulation</tspan><tspan x="6221" y="519.5">of nitrogen</tspan><tspan x="6221" y="534.5">compound metabolic</tspan><tspan x="6221" y="549.5">process</tspan></text></g>
<g id="n_rmmp"><rect class="b" x="6318" y="498" width="124" height="49"/><text><tspan x="6380" y="512">regulation of</tspan><tspan x="6380" y="527">macromolecule</tspan><tspan x="6380" y="542">metabolic process</tspan></text></g>
<g id="n_mm"><rect class="b" x="6467" y="498" width="106" height="49"/><text><tspan x="6520" y="519.5">macromolecule</tspan><tspan x="6520" y="534.5">modification</tspan></text></g>
<g id="n_ge"><rect class="b" x="6649" y="498" width="113" height="49"/><text x="6705.5" y="527">gene expression</text></g>
<g id="n_cortcyto"><rect class="b" x="342" y="603" width="142" height="49"/><text x="413" y="632">cortical cytoskeleton</text></g>
<g id="n_actincyto"><rect class="b" x="508" y="603" width="127" height="49"/><text x="571.5" y="632">actin cytoskeleton</text></g>
<g id="n_encd"><rect class="b" x="1080" y="603" width="125" height="49"/><text><tspan x="1142.5" y="624.5">endothelial</tspan><tspan x="1142.5" y="639.5">cell differentiation</tspan></text></g>
<g id="n_epcdev"><rect class="b" x="1230" y="603" width="95" height="49"/><text><tspan x="1277.5" y="624.5">epithelial cell</tspan><tspan x="1277.5" y="639.5">development</tspan></text></g>
<g id="n_plm"><rect class="b" x="1487" y="603" width="130" height="49"/><text><tspan x="1552" y="624.5">protein localization</tspan><tspan x="1552" y="639.5">to membrane</tspan></text></g>
<g id="n_rsadcs"><rect class="b" x="1693" y="603" width="204" height="49"/><text><tspan x="1795" y="617">regulation of</tspan><tspan x="1795" y="632">substrate adhesion-dependent</tspan><tspan x="1795" y="647">cell spreading</tspan></text></g>
<g id="n_prcsa"><rect class="b" x="1921" y="603" width="128" height="49"/><text><tspan x="1985" y="617">positive regulation</tspan><tspan x="1985" y="632">of cell-substrate</tspan><tspan x="1985" y="647">adhesion</tspan></text></g>
<g id="n_gastrulation"><rect class="b" x="2074" y="603" width="84" height="49"/><text x="2116" y="632">gastrulation</text></g>
<g id="n_ccavpm"><rect class="b" x="2182" y="603" width="155" height="49"/><text><tspan x="2259.5" y="617">cell-cell adhesion</tspan><tspan x="2259.5" y="632">via plasma-membrane</tspan><tspan x="2259.5" y="647">adhesion molecules</tspan></text></g>
<g id="n_hcca"><rect class="b" x="2361" y="603" width="120" height="49"/><text><tspan x="2421" y="624.5">heterotypic</tspan><tspan x="2421" y="639.5">cell-cell adhesion</tspan></text></g>
<g id="n_rcca"><rect class="b" x="2505" y="603" width="120" height="49"/><text><tspan x="2565" y="624.5">regulation of</tspan><tspan x="2565" y="639.5">cell-cell adhesion</tspan></text></g>
<g id="n_mro"><rect class="q" x="2999" y="603" width="103" height="49"/><text><tspan x="3050.5" y="624.5">membrane raft</tspan><tspan x="3050.5" y="639.5">organization</tspan></text></g>
<g id="n_cyto"><rect class="b" x="3178" y="603" width="89" height="49"/><text><tspan x="3222.5" y="624.5">cytoskeleton</tspan><tspan x="3222.5" y="639.5">organization</tspan></text></g>
<g id="n_roo"><rect class="b" x="3292" y="603" width="151" height="49"/><text><tspan x="3367.5" y="624.5">regulation of</tspan><tspan x="3367.5" y="639.5">organelle organization</tspan></text></g>
<g id="n_rsfo"><rect class="b" x="3519" y="603" width="119" height="49"/><text><tspan x="3578.5" y="617">regulation of</tspan><tspan x="3578.5" y="632">supramolecular</tspan><tspan x="3578.5" y="647">fiber organization</tspan></text></g>
<g id="n_pcca"><rect class="b" x="3714" y="603" width="128" height="49"/><text><tspan x="3778" y="624.5">protein-containing</tspan><tspan x="3778" y="639.5">complex assembly</tspan></text></g>
<g id="n_nrcco"><rect class="b" x="3970" y="603" width="164" height="49"/><text><tspan x="4052" y="617">negative regulation</tspan><tspan x="4052" y="632">of cellular</tspan><tspan x="4052" y="647">component organization</tspan></text></g>
<g id="n_prcmig"><rect class="q" x="4315" y="603" width="128" height="49"/><text><tspan x="4379" y="624.5">positive regulation</tspan><tspan x="4379" y="639.5">of cell migration</tspan></text></g>
<g id="n_pkcs"><rect class="b" x="4568" y="603" width="99" height="49"/><text><tspan x="4617.5" y="624.5">protein kinase</tspan><tspan x="4617.5" y="639.5">C signaling</tspan></text></g>
<g id="n_rist"><rect class="b" x="4690" y="603" width="131" height="49"/><text><tspan x="4755.5" y="617">regulation of</tspan><tspan x="4755.5" y="632">intracellular</tspan><tspan x="4755.5" y="647">signal transduction</tspan></text></g>
<g id="n_nrst"><rect class="b" x="4936" y="603" width="147" height="49"/><text><tspan x="5009.5" y="624.5">negative regulation</tspan><tspan x="5009.5" y="639.5">of signal transduction</tspan></text></g>
<g id="n_nrphmp"><rect class="b" x="5353" y="603" width="134" height="49"/><text><tspan x="5420" y="617">negative regulation</tspan><tspan x="5420" y="632">of phosphorus</tspan><tspan x="5420" y="647">metabolic process</tspan></text></g>
<g id="n_rpmp"><rect class="b" x="5561" y="603" width="143" height="49"/><text><tspan x="5632.5" y="617">regulation of</tspan><tspan x="5632.5" y="632">phosphate metabolic</tspan><tspan x="5632.5" y="647">process</tspan></text></g>
<g id="n_phos"><rect class="b" x="5728" y="603" width="111" height="49"/><text x="5783.5" y="632">phosphorylation</text></g>
<g id="n_rprmp"><rect class="b" x="5880" y="603" width="120" height="49"/><text><tspan x="5940" y="617">regulation of</tspan><tspan x="5940" y="632">protein metabolic</tspan><tspan x="5940" y="647">process</tspan></text></g>
<g id="n_pmodp"><rect class="b" x="6025" y="603" width="137" height="49"/><text><tspan x="6093.5" y="624.5">protein modification</tspan><tspan x="6093.5" y="639.5">process</tspan></text></g>
<g id="n_nrmmp"><rect class="b" x="6314" y="603" width="133" height="49"/><text><tspan x="6380.5" y="617">negative regulation</tspan><tspan x="6380.5" y="632">of macromolecule</tspan><tspan x="6380.5" y="647">metabolic process</tspan></text></g>
<g id="n_rge"><rect class="b" x="6513" y="603" width="113" height="49"/><text><tspan x="6569.5" y="624.5">regulation of</tspan><tspan x="6569.5" y="639.5">gene expression</tspan></text></g>
<g id="n_cac"><rect class="q" x="447" y="708" width="92" height="49"/><text><tspan x="493" y="729.5">cortical actin</tspan><tspan x="493" y="744.5">cytoskeleton</tspan></text></g>
<g id="n_encdev"><rect class="b" x="1145" y="708" width="118" height="49"/><text><tspan x="1204" y="729.5">endothelial</tspan><tspan x="1204" y="744.5">cell development</tspan></text></g>
<g id="n_plcp"><rect class="b" x="1351" y="708" width="130" height="49"/><text><tspan x="1416" y="729.5">protein localization</tspan><tspan x="1416" y="744.5">to cell periphery</tspan></text></g>
<g id="n_plmr"><rect class="b" x="1505" y="708" width="131" height="49"/><text><tspan x="1570.5" y="722">protein localization</tspan><tspan x="1570.5" y="737">to membrane</tspan><tspan x="1570.5" y="752">raft</tspan></text></g>
<g id="n_prsadcs"><rect class="q" x="1726" y="701" width="138" height="64"/><text><tspan x="1795" y="715">positive regulation</tspan><tspan x="1795" y="730">of substrate</tspan><tspan x="1795" y="745">adhesion-dependent</tspan><tspan x="1795" y="760">cell spreading</tspan></text></g>
<g id="n_ccaig"><rect class="b" x="2200" y="708" width="120" height="49"/><text><tspan x="2260" y="722">cell-cell adhesion</tspan><tspan x="2260" y="737">involved in</tspan><tspan x="2260" y="752">gastrulation</tspan></text></g>
<g id="n_rhcca"><rect class="b" x="2406" y="708" width="119" height="49"/><text><tspan x="2465.5" y="722">regulation of</tspan><tspan x="2465.5" y="737">heterotypic</tspan><tspan x="2465.5" y="752">cell-cell adhesion</tspan></text></g>
<g id="n_nrcca"><rect class="b" x="2600" y="708" width="133" height="49"/><text><tspan x="2666.5" y="722">negative regulation</tspan><tspan x="2666.5" y="737">of cell-cell</tspan><tspan x="2666.5" y="752">adhesion</tspan></text></g>
<g id="n_aco"><rect class="b" x="2975" y="708" width="127" height="49"/><text><tspan x="3038.5" y="729.5">actin cytoskeleton</tspan><tspan x="3038.5" y="744.5">organization</tspan></text></g>
<g id="n_rco"><rect class="b" x="3228" y="708" width="91" height="49"/><text><tspan x="3273.5" y="722">regulation of</tspan><tspan x="3273.5" y="737">cytoskeleton</tspan><tspan x="3273.5" y="752">organization</tspan></text></g>
<g id="n_nroo"><rect class="b" x="3342" y="708" width="134" height="49"/><text><tspan x="3409" y="722">negative regulation</tspan><tspan x="3409" y="737">of organelle</tspan><tspan x="3409" y="752">organization</tspan></text></g>
<g id="n_pp"><rect class="b" x="3550" y="708" width="155" height="49"/><text x="3627.5" y="737">protein polymerization</text></g>
<g id="n_rpcca"><rect class="b" x="3730" y="708" width="128" height="49"/><text><tspan x="3794" y="722">regulation of</tspan><tspan x="3794" y="737">protein-containing</tspan><tspan x="3794" y="752">complex assembly</tspan></text></g>
<g id="n_nrsfo"><rect class="b" x="3935" y="708" width="133" height="49"/><text><tspan x="4001.5" y="722">negative regulation</tspan><tspan x="4001.5" y="737">of supramolecular</tspan><tspan x="4001.5" y="752">fiber organization</tspan></text></g>
<g id="n_rpkcs"><rect class="b" x="4659" y="708" width="98" height="49"/><text><tspan x="4708" y="722">regulation of</tspan><tspan x="4708" y="737">protein kinase</tspan><tspan x="4708" y="752">C signaling</tspan></text></g>
<g id="n_nrist"><rect class="b" x="4786" y="708" width="132" height="49"/><text><tspan x="4852" y="722">negative regulation</tspan><tspan x="4852" y="737">of intracellular</tspan><tspan x="4852" y="752">signal transduction</tspan></text></g>
<g id="n_nrpmp"><rect class="b" x="5440" y="708" width="133" height="49"/><text><tspan x="5506.5" y="722">negative regulation</tspan><tspan x="5506.5" y="737">of phosphate</tspan><tspan x="5506.5" y="752">metabolic process</tspan></text></g>
<g id="n_rphos"><rect class="b" x="5649" y="708" width="109" height="49"/><text><tspan x="5703.5" y="729.5">regulation of</tspan><tspan x="5703.5" y="744.5">phosphorylation</tspan></text></g>
<g id="n_prph"><rect class="b" x="5784" y="708" width="161" height="49"/><text x="5864.5" y="737">protein phosphorylation</text></g>
<g id="n_rprmodp"><rect class="b" x="5969" y="708" width="136" height="49"/><text><tspan x="6037" y="722">regulation of</tspan><tspan x="6037" y="737">protein modification</tspan><tspan x="6037" y="752">process</tspan></text></g>
<g id="n_nrprmp"><rect class="b" x="6181" y="708" width="138" height="49"/><text><tspan x="6250" y="722">negative regulation</tspan><tspan x="6250" y="737">of protein metabolic</tspan><tspan x="6250" y="752">process</tspan></text></g>
<g id="n_nrge"><rect class="q" x="6502" y="708" width="134" height="49"/><text><tspan x="6569" y="729.5">negative regulation</tspan><tspan x="6569" y="744.5">of gene expression</tspan></text></g>
<g id="n_eeb"><rect class="q" x="1154" y="821" width="99" height="49"/><text><tspan x="1203.5" y="835">establishment</tspan><tspan x="1203.5" y="850">of endothelial</tspan><tspan x="1203.5" y="865">barrier</tspan></text></g>
<g id="n_plpmr"><rect class="q" x="1420" y="821" width="147" height="49"/><text><tspan x="1493.5" y="835">protein localization</tspan><tspan x="1493.5" y="850">to plasma membrane</tspan><tspan x="1493.5" y="865">raft</tspan></text></g>
<g id="n_rccaig"><rect class="b" x="2406" y="813" width="119" height="65"/><text><tspan x="2465.5" y="827.5">regulation of</tspan><tspan x="2465.5" y="842.5">cell-cell adhesion</tspan><tspan x="2465.5" y="857.5">involved in</tspan><tspan x="2465.5" y="872.5">gastrulation</tspan></text></g>
<g id="n_raco"><rect class="b" x="2975" y="821" width="127" height="49"/><text><tspan x="3038.5" y="835">regulation of</tspan><tspan x="3038.5" y="850">actin cytoskeleton</tspan><tspan x="3038.5" y="865">organization</tspan></text></g>
<g id="n_afo"><rect class="b" x="3127" y="821" width="96" height="49"/><text><tspan x="3175" y="842.5">actin filament</tspan><tspan x="3175" y="857.5">organization</tspan></text></g>
<g id="n_nrco"><rect class="b" x="3292" y="821" width="133" height="49"/><text><tspan x="3358.5" y="835">negative regulation</tspan><tspan x="3358.5" y="850">of cytoskeleton</tspan><tspan x="3358.5" y="865">organization</tspan></text></g>
<g id="n_rpp"><rect class="b" x="3593" y="821" width="155" height="49"/><text><tspan x="3670.5" y="842.5">regulation of</tspan><tspan x="3670.5" y="857.5">protein polymerization</tspan></text></g>
<g id="n_nrpcca"><rect class="b" x="3824" y="821" width="142" height="49"/><text><tspan x="3895" y="835">negative regulation</tspan><tspan x="3895" y="850">of protein-containing</tspan><tspan x="3895" y="865">complex assembly</tspan></text></g>
<g id="n_nrpkcs"><rect class="q" x="4642" y="821" width="133" height="49"/><text><tspan x="4708.5" y="835">negative regulation</tspan><tspan x="4708.5" y="850">of protein kinase</tspan><tspan x="4708.5" y="865">C signaling</tspan></text></g>
<g id="n_nrphos"><rect class="b" x="5584" y="821" width="133" height="49"/><text><tspan x="5650.5" y="842.5">negative regulation</tspan><tspan x="5650.5" y="857.5">of phosphorylation</tspan></text></g>
<g id="n_rprph"><rect class="b" x="5808" y="821" width="161" height="49"/><text><tspan x="5888.5" y="842.5">regulation of</tspan><tspan x="5888.5" y="857.5">protein phosphorylation</tspan></text></g>
<g id="n_nrpmodp"><rect class="b" x="6041" y="821" width="155" height="49"/><text><tspan x="6118.5" y="835">negative regulation</tspan><tspan x="6118.5" y="850">of protein modification</tspan><tspan x="6118.5" y="865">process</tspan></text></g>
<g id="n_nrhcca"><rect class="q" x="2447" y="926" width="132" height="49"/><text><tspan x="2513" y="940">negative regulation</tspan><tspan x="2513" y="955">of heterotypic</tspan><tspan x="2513" y="970">cell-cell adhesion</tspan></text></g>
<g id="n_rafl"><rect class="b" x="2991" y="926" width="95" height="49"/><text><tspan x="3038.5" y="940">regulation of</tspan><tspan x="3038.5" y="955">actin filament</tspan><tspan x="3038.5" y="970">length</tspan></text></g>
<g id="n_rafo"><rect class="b" x="3127" y="926" width="96" height="49"/><text><tspan x="3175" y="940">regulation of</tspan><tspan x="3175" y="955">actin filament</tspan><tspan x="3175" y="970">organization</tspan></text></g>
<g id="n_apd"><rect class="b" x="3248" y="926" width="138" height="49"/><text><tspan x="3317" y="947.5">actin polymerization</tspan><tspan x="3317" y="962.5">or depolymerization</tspan></text></g>
<g id="n_nrpp"><rect class="b" x="3700" y="926" width="170" height="49"/><text><tspan x="3785" y="947.5">negative regulation</tspan><tspan x="3785" y="962.5">of protein polymerization</tspan></text></g>
<g id="n_nrprph"><rect class="q" x="5739" y="926" width="178" height="49"/><text><tspan x="5828" y="947.5">negative regulation</tspan><tspan x="5828" y="962.5">of protein phosphorylation</tspan></text></g>
<g id="n_rapd"><rect class="b" x="3176" y="1025" width="138" height="49"/><text><tspan x="3245" y="1039">regulation of</tspan><tspan x="3245" y="1054">actin polymerization</tspan><tspan x="3245" y="1069">or depolymerization</tspan></text></g>
<g id="n_afp"><rect class="b" x="3471" y="1025" width="104" height="49"/><text><tspan x="3523" y="1046.5">actin filament</tspan><tspan x="3523" y="1061.5">polymerization</tspan></text></g>
<g id="n_rafp"><rect class="b" x="3471" y="1123" width="104" height="49"/><text><tspan x="3523" y="1137">regulation of</tspan><tspan x="3523" y="1152">actin filament</tspan><tspan x="3523" y="1167">polymerization</tspan></text></g>
<g id="n_nrafp"><rect class="q" x="3596" y="1222" width="133" height="49"/><text><tspan x="3662.5" y="1236">negative regulation</tspan><tspan x="3662.5" y="1251">of actin filament</tspan><tspan x="3662.5" y="1266">polymerization</tspan></text></g>
</svg>
